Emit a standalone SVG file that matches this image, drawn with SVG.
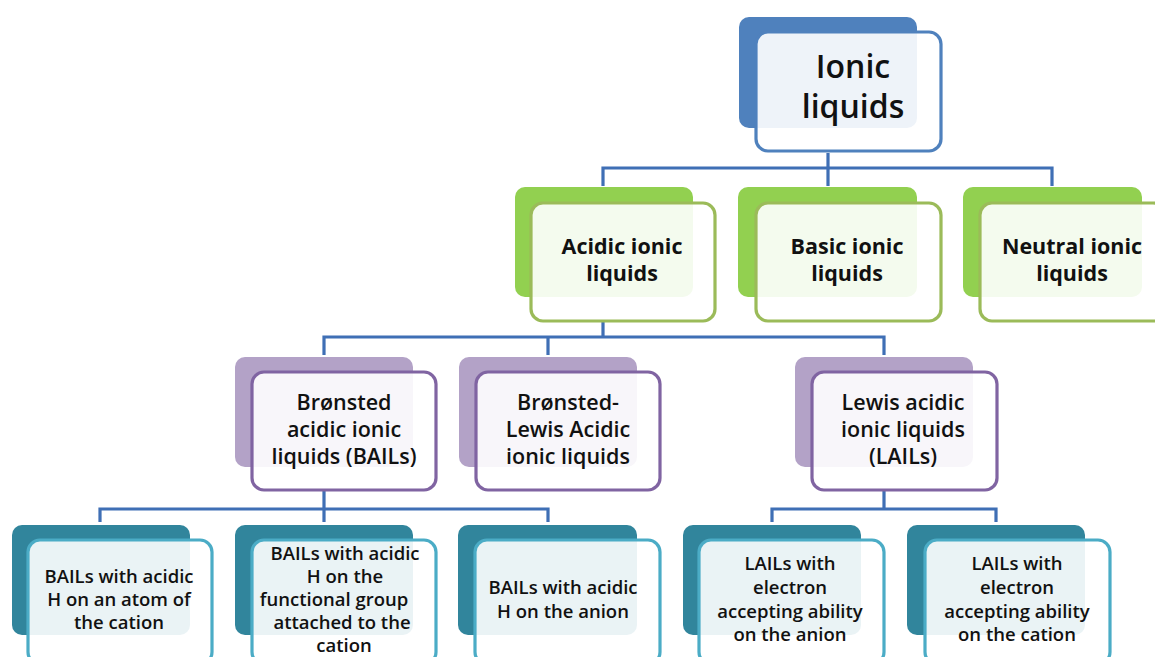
<svg xmlns="http://www.w3.org/2000/svg" width="1155" height="657" viewBox="0 0 1155 657">
<style>
.bk{stroke:none}
.fr{fill:#ffffff;fill-opacity:0.9;stroke-width:3.2}
.b0{fill:#4F81BD}.f0{stroke:#4F81BD}
.b1{fill:#92D050}.f1{stroke:#9BBB59}
.b2{fill:#B3A2C7}.f2{stroke:#8064A2}
.b3{fill:#31859C}.f3{stroke:#4BACC6}
text{font-family:"Open Sans",Lato,"Liberation Sans",sans-serif;fill:#111;text-anchor:middle}
.t0{font-size:32px;font-weight:600}
.t1{font-size:21.5px;font-weight:700}
.t2{font-size:21.5px;font-weight:600}
.t3{font-size:18.5px;font-weight:600}
.cn{fill:none;stroke:#3F6FB5;stroke-width:3.2}
</style>
<g id="connectors" class="cn">
<path d="M828,153 V168 M603,186 V168 H1052 V186 M828,168 V186"/>
<path d="M603,320 V337 M324,355 V337 H884 V355 M548,337 V355"/>
<path d="M324,490 V509 M100,522 V509 H548 V522 M324,509 V522"/>
<path d="M884,490 V509 M772,522 V509 H996 V522"/>
</g>
<g id="n-ionic">
<rect class="bk b0" x="739" y="17" width="178" height="111" rx="10"/>
<rect class="fr f0" x="756" y="32" width="185" height="119" rx="12"/>
<text class="t0" x="853" y="78">Ionic</text>
<text class="t0" x="853" y="118">liquids</text>
</g>
<g id="n-acidic">
<rect class="bk b1" x="515" y="187" width="178" height="110" rx="10"/>
<rect class="fr f1" x="531" y="203" width="184" height="118" rx="12"/>
<text class="t1" x="622" y="254">Acidic ionic</text>
<text class="t1" x="622" y="281">liquids</text>
</g>
<g id="n-basic">
<rect class="bk b1" x="738" y="187" width="179" height="110" rx="10"/>
<rect class="fr f1" x="756" y="203" width="185" height="118" rx="12"/>
<text class="t1" x="847" y="254">Basic ionic</text>
<text class="t1" x="847" y="281">liquids</text>
</g>
<g id="n-neutral">
<rect class="bk b1" x="963" y="187" width="179" height="110" rx="10"/>
<rect class="fr f1" x="980" y="203" width="185" height="118" rx="12"/>
<text class="t1" x="1072" y="254">Neutral ionic</text>
<text class="t1" x="1072" y="281">liquids</text>
</g>
<g id="n-bronsted">
<rect class="bk b2" x="235" y="357" width="178" height="110" rx="10"/>
<rect class="fr f2" x="252" y="372" width="184" height="118" rx="12"/>
<text class="t2" x="344" y="410">Brønsted</text>
<text class="t2" x="344" y="437">acidic ionic</text>
<text class="t2" x="344" y="464">liquids (BAILs)</text>
</g>
<g id="n-bronsted-lewis">
<rect class="bk b2" x="459" y="357" width="178" height="110" rx="10"/>
<rect class="fr f2" x="476" y="372" width="184" height="118" rx="12"/>
<text class="t2" x="568" y="410">Brønsted-</text>
<text class="t2" x="568" y="437">Lewis Acidic</text>
<text class="t2" x="568" y="464">ionic liquids</text>
</g>
<g id="n-lewis">
<rect class="bk b2" x="795" y="357" width="178" height="110" rx="10"/>
<rect class="fr f2" x="812" y="372" width="185" height="118" rx="12"/>
<text class="t2" x="903" y="410">Lewis acidic</text>
<text class="t2" x="903" y="437">ionic liquids</text>
<text class="t2" x="903" y="464">(LAILs)</text>
</g>
<g id="n-bail-cation">
<rect class="bk b3" x="12" y="525" width="178" height="110" rx="10"/>
<rect class="fr f3" x="28" y="540" width="184" height="124" rx="12"/>
<text class="t3" x="119" y="583">BAILs with acidic</text>
<text class="t3" x="119" y="606">H on an atom of</text>
<text class="t3" x="119" y="629">the cation</text>
</g>
<g id="n-bail-group">
<rect class="bk b3" x="235" y="525" width="178" height="110" rx="10"/>
<rect class="fr f3" x="252" y="540" width="184" height="124" rx="12"/>
<text class="t3" x="345" y="560">BAILs with acidic</text>
<text class="t3" x="345" y="583">H on the</text>
<text class="t3" x="334" y="606">functional group</text>
<text class="t3" x="342" y="629">attached to the</text>
<text class="t3" x="344" y="652">cation</text>
</g>
<g id="n-bail-anion">
<rect class="bk b3" x="458" y="525" width="179" height="110" rx="10"/>
<rect class="fr f3" x="475" y="540" width="185" height="124" rx="12"/>
<text class="t3" x="563" y="594">BAILs with acidic</text>
<text class="t3" x="563" y="618">H on the anion</text>
</g>
<g id="n-lail-anion">
<rect class="bk b3" x="683" y="525" width="178" height="110" rx="10"/>
<rect class="fr f3" x="699" y="540" width="185" height="124" rx="12"/>
<text class="t3" x="790" y="570">LAILs with</text>
<text class="t3" x="790" y="594">electron</text>
<text class="t3" x="790" y="618">accepting ability</text>
<text class="t3" x="790" y="641">on the anion</text>
</g>
<g id="n-lail-cation">
<rect class="bk b3" x="907" y="525" width="178" height="110" rx="10"/>
<rect class="fr f3" x="925" y="540" width="185" height="124" rx="12"/>
<text class="t3" x="1017" y="570">LAILs with</text>
<text class="t3" x="1017" y="594">electron</text>
<text class="t3" x="1017" y="618">accepting ability</text>
<text class="t3" x="1017" y="641">on the cation</text>
</g>
</svg>
